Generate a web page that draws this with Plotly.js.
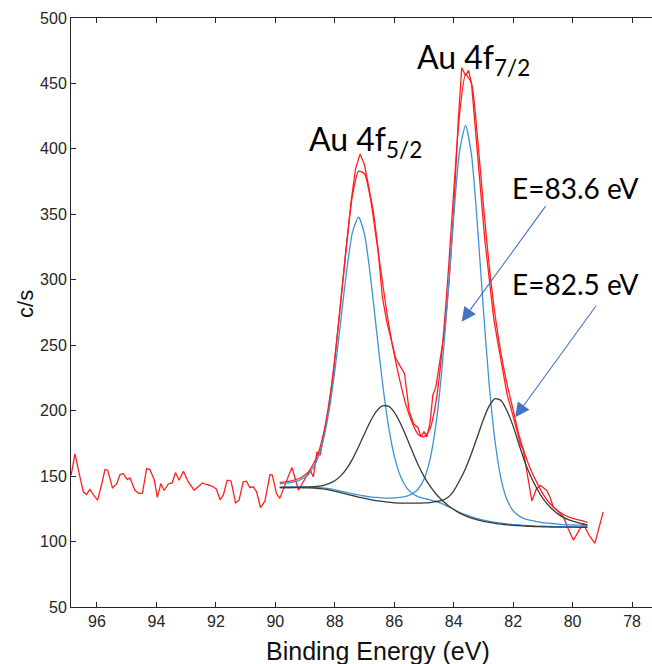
<!DOCTYPE html>
<html><head><meta charset="utf-8">
<script src="https://cdn.plot.ly/plotly-3.0.1.min.js"></script>
<style>html,body{margin:0;padding:0;overflow:hidden;background:#fff}#chart{width:660px;height:664px}</style>
</head><body><div id="chart"></div><script>
// Raw spectrum (binding energy in eV, counts per second)
const energyRaw = [96.87,96.74,96.6,96.46,96.35,96.24,96.1,95.98,95.85,95.73,95.64,95.48,95.34,95.23,95.12,94.98,94.89,94.72,94.58,94.47,94.33,94.22,94.07,93.97,93.85,93.74,93.6,93.47,93.36,93.24,93.09,92.93,92.73,92.59,92.45,92.33,92.2,92.09,91.98,91.86,91.75,91.62,91.49,91.34,91.22,91.08,90.97,90.86,90.74,90.63,90.5,90.35,90.18,90.1,89.96,89.85,89.72,89.56,89.44,89.22,89.0,88.83,88.72,88.6,88.49,88.38,88.2,88.05,87.9,87.75,87.6,87.45,87.3,87.15,87.0,86.85,86.7,86.55,86.4,86.25,86.1,85.95,85.8,85.65,85.5,85.35,85.2,85.1,85.0,84.9,84.8,84.7,84.6,84.45,84.3,84.15,84.0,83.85,83.73,83.6,83.5,83.4,83.25,83.1,82.95,82.8,82.65,82.5,82.35,82.2,82.05,81.9,81.75,81.66,81.52,81.37,81.22,81.09,80.97,80.87,80.76,80.65,80.48,80.31,80.15,79.97,79.8,79.64,79.45,79.25,78.97];
const countsRaw = [150.7,167,152,138,136,139.8,135,131.6,143,155,154.5,141,143.8,151,152,147.4,148.6,139,136.7,137,155.8,155,147,133.7,144.3,139,144,144.8,152.7,146.9,153.7,145.6,139.2,141.8,144.8,143.6,143,141.8,140,132,135.4,146.9,146.3,129.6,131.6,145.6,146.1,141.3,141.8,138,126,130.8,151.2,150.7,136.7,133,140,150,156.6,139.2,148,154.5,149.4,168.5,166,178.7,202,228,262,292,326,360,385,396,388,370,352,325,287,268,255,240,234,228,200,190,187,180,184,180,190,212,218,240,262,300,352,420,462,456,460,450,410,375,330,300,270,250,232,212,200,188,174,170,150,131,140,143,141,139,134,126.5,123,119,110,101,108,113.8,105,98.6,122.7];

// Fit (shared energy grid)
const energyFit = [89.85,89.5,89.2,88.9,88.6,88.4,88.2,88.0,87.8,87.6,87.4,87.2,87.0,86.8,86.6,86.4,86.2,86.0,85.8,85.6,85.4,85.2,85.0,84.8,84.6,84.4,84.2,84.0,83.8,83.6,83.4,83.2,83.0,82.8,82.6,82.4,82.2,82.0,81.8,81.6,81.4,81.2,81.0,80.7,80.4,80.1,79.8,79.5];
const fitEnvelope = [145.2,146.2,148.2,152.8,164.8,180.3,205.1,239.7,282.8,328.3,365,383,381,362,331,299,268,243,222,204,191,182,180,186,206,244,300,367,427,457,450,409,357,309.6,271.8,242.8,219.7,200.6,181,166.5,154.5,145,136.5,127.5,122,118.5,116.5,114.7];
const compAu52 = [144.1,145.0,146.7,150.9,161.9,176.3,198.9,230.2,268.2,306.9,336.8,347.8,334.8,302.8,262.1,222.3,189.4,165.6,150.4,141.6,136.9,134.3,132.9,131.9,130.7,129.0,126.9,124.7,122.4,120.5,118.9,117.5,116.4,115.5,114.7,114.0,113.5,113.0,112.7,112.3,112.1,111.8,111.7,111.5,111.4,111.3,111.2,111.2];
const compAu72 = [141.6,141.7,141.8,141.7,141.5,141.0,140.4,139.5,138.6,137.5,136.5,135.6,134.8,134.2,133.7,133.4,133.2,133.3,133.7,134.6,136.4,140.0,147.5,162.4,189.0,230.6,286.5,348.0,398.6,417.9,395.4,341.6,277.1,218.7,175.1,147.2,131.6,123.6,119.6,117.4,116.1,115.2,114.5,113.8,113.2,112.8,112.5,112.2];
const compLow52 = [141.3,141.3,141.5,141.6,142.2,142.8,144.2,146.4,150.2,155.7,163.2,172.4,182.4,191.9,199.4,203.6,203.4,198.9,190.8,180.5,169.5,158.9,149.8,142.5,136.5,131.7,127.8,124.5,121.7,119.6,117.9,116.6,115.5,114.7,113.9,113.3,112.8,112.4,112.1,111.8,111.6,111.4,111.2,111.1,111.0,111.0,110.9,110.9];
const compLow72 = [141.2,141.2,141.2,141.0,140.7,140.2,139.5,138.5,137.4,136.2,135.0,134.0,133.0,132.1,131.3,130.7,130.1,129.6,129.4,129.3,129.3,129.3,129.5,129.8,130.6,131.3,133.6,138.6,146.6,155.9,167.4,180.2,193.2,203.9,209.2,207.6,199.6,188.2,174.0,160.5,149.5,140.5,133.0,125.0,119.6,116.4,114.3,112.8];

const labels = {
  peak52: 'Au 4f<sub>5/2</sub>',
  peak72: 'Au 4f<sub>7/2</sub>',
  e1: 'E=83.6 eV',
  e2: 'E=82.5 eV',
  xTitle: 'Binding Energy (eV)',
  yTitle: 'c/s'
};

const RED = '#ff1f1f', BLUE = '#3d93d8', BLACK = '#383838', ARROW = '#4472C4';
const smooth = {shape: 'spline', smoothing: 0.6};

const traces = [
  {x: energyRaw, y: countsRaw, mode: 'lines', line: {color: RED, width: 1.3}, hoverinfo: 'skip'},
  {x: energyFit, y: fitEnvelope, mode: 'lines', line: Object.assign({color: RED, width: 1.3}, smooth)},
  {x: energyFit, y: compAu52, mode: 'lines', line: Object.assign({color: BLUE, width: 1.3}, smooth)},
  {x: energyFit, y: compAu72, mode: 'lines', line: Object.assign({color: BLUE, width: 1.3}, smooth)},
  {x: energyFit, y: compLow52, mode: 'lines', line: Object.assign({color: BLACK, width: 1.3}, smooth)},
  {x: energyFit, y: compLow72, mode: 'lines', line: Object.assign({color: BLACK, width: 1.3}, smooth)}
];

const FONT = 'Liberation Sans, Arial, sans-serif';
const axisCommon = {
  showline: true, linecolor: '#262626', linewidth: 1, mirror: 'ticks',
  ticks: 'inside', ticklen: 5, tickcolor: '#262626', tickwidth: 1,
  showgrid: false, zeroline: false,
  tickfont: {family: FONT, size: 16, color: '#262626'}
};

const layout = {
  width: 660, height: 664,
  margin: {l: 71, r: 2, t: 18, b: 57},
  paper_bgcolor: '#fff', plot_bgcolor: '#fff',
  showlegend: false,
  xaxis: Object.assign({}, axisCommon, {range: [96.874, 77.126], dtick: 2, tick0: 0}),
  yaxis: Object.assign({}, axisCommon, {range: [50, 500], dtick: 50, tick0: 0}),
  annotations: [
    {xref: 'paper', yref: 'paper', x: 0.523, y: -0.0746, xanchor: 'center', yanchor: 'middle', showarrow: false,
     text: labels.xTitle, font: {family: FONT, size: 25, color: '#111'}},
    {xref: 'paper', yref: 'paper', x: -0.078, y: 0.515, xanchor: 'center', yanchor: 'middle', showarrow: false,
     textangle: -90, text: labels.yTitle, font: {family: FONT, size: 22, color: '#111'}},
    {x: 88.95, y: 406, xanchor: 'left', yanchor: 'middle', showarrow: false, text: labels.peak52,
     font: {family: 'Lato, sans-serif', size: 32, color: '#000'}},
    {x: 85.3, y: 469, xanchor: 'left', yanchor: 'middle', showarrow: false, text: labels.peak72,
     font: {family: 'Lato, sans-serif', size: 32, color: '#000'}},
    {x: 82.12, y: 370, xanchor: 'left', yanchor: 'middle', showarrow: false, text: labels.e1,
     font: {family: 'Lato, sans-serif', size: 28, color: '#000'}},
    {x: 82.12, y: 297, xanchor: 'left', yanchor: 'middle', showarrow: false, text: labels.e2,
     font: {family: 'Lato, sans-serif', size: 28, color: '#000'}},
    {x: 83.73, y: 268, ax: 85, ay: -117, text: '', showarrow: true, arrowhead: 2, arrowsize: 2.6, arrowwidth: 1.1, arrowcolor: ARROW},
    {x: 81.93, y: 195, ax: 82, ay: -113, text: '', showarrow: true, arrowhead: 2, arrowsize: 2.6, arrowwidth: 1.1, arrowcolor: ARROW}
  ]
};

Plotly.newPlot('chart', traces, layout, {displayModeBar: false, staticPlot: true});
</script></body></html>
